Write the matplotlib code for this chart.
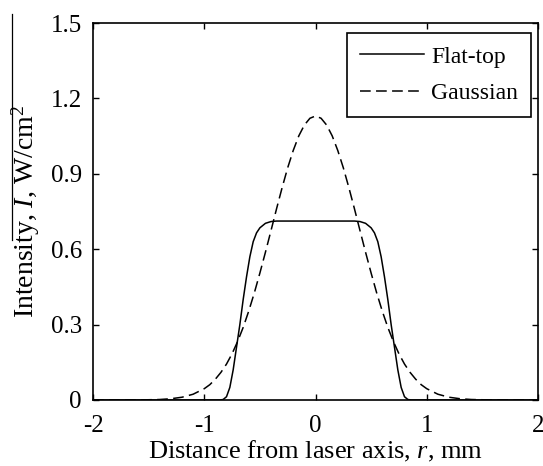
import matplotlib
matplotlib.use("Agg")
import matplotlib.pyplot as plt
from matplotlib.lines import Line2D

# ---- data ----
flat_r = [-2.0, -1.5, -1.0, -0.86, -0.83, -0.80, -0.77, -0.74, -0.71, -0.68, -0.65,
          -0.62, -0.59, -0.56, -0.53, -0.50, -0.45, -0.40, -0.35, 0.0,
          0.35, 0.40, 0.45, 0.50, 0.53, 0.56, 0.59, 0.62, 0.65, 0.68, 0.71,
          0.74, 0.77, 0.80, 0.83, 0.86, 1.0, 1.5, 2.0]
flat_I = [0.0, 0.0, 0.0, 0.0, 0.002, 0.013, 0.05, 0.12, 0.21, 0.30, 0.40,
          0.49, 0.57, 0.63, 0.665, 0.685, 0.703, 0.710, 0.712, 0.712,
          0.712, 0.710, 0.703, 0.685, 0.665, 0.63, 0.57, 0.49, 0.40, 0.30, 0.21,
          0.12, 0.05, 0.013, 0.002, 0.0, 0.0, 0.0, 0.0]

gauss_r = [-2.0, -1.9, -1.8, -1.7, -1.6, -1.5, -1.4, -1.3, -1.2, -1.1, -1.0,
           -0.95, -0.90, -0.85, -0.80, -0.75, -0.70, -0.65, -0.60, -0.55, -0.50,
           -0.45, -0.40, -0.35, -0.30, -0.25, -0.20, -0.15, -0.10, -0.05, 0.0,
           0.05, 0.10, 0.15, 0.20, 0.25, 0.30, 0.35, 0.40, 0.45, 0.50,
           0.55, 0.60, 0.65, 0.70, 0.75, 0.80, 0.85, 0.90, 0.95, 1.0,
           1.1, 1.2, 1.3, 1.4, 1.5, 1.6, 1.7, 1.8, 1.9, 2.0]
gauss_I = [0.0, 0.0, 0.0, 0.0, 0.0, 0.001, 0.002, 0.005, 0.011, 0.023, 0.045,
           0.061, 0.083, 0.110, 0.143, 0.184, 0.233, 0.289, 0.354, 0.426, 0.505,
           0.588, 0.674, 0.761, 0.845, 0.924, 0.993, 1.051, 1.094, 1.121, 1.130,
           1.121, 1.094, 1.051, 0.993, 0.924, 0.845, 0.761, 0.674, 0.588, 0.505,
           0.426, 0.354, 0.289, 0.233, 0.184, 0.143, 0.110, 0.083, 0.061, 0.045,
           0.023, 0.011, 0.005, 0.002, 0.001, 0.0, 0.0, 0.0, 0.0, 0.0]

x_ticks = [-2, -1, 0, 1, 2]
x_ticklabels = ["-2", "-1", "0", "1", "2"]
y_ticks = [0, 0.3, 0.6, 0.9, 1.2, 1.5]
y_ticklabels = ["0", "0.3", "0.6", "0.9", "1.2", "1.5"]

plt.rcParams['font.family'] = ['Liberation Serif', 'DejaVu Serif']
plt.rcParams['mathtext.fontset'] = 'custom'
plt.rcParams['mathtext.rm'] = 'Liberation Serif'
plt.rcParams['mathtext.it'] = 'Liberation Serif:italic'

W, H = 543, 466
fig = plt.figure(figsize=(W / 100, H / 100), dpi=100)
ax = fig.add_axes([93 / W, 1 - 400 / H, (538 - 93) / W, (400 - 23) / H])

ax.plot(flat_r, flat_I, color='black', lw=1.1, label='Flat-top')
g, = ax.plot(gauss_r, gauss_I, color='black', lw=1.1, label='Gaussian')
g.set_dashes([7, 3.5])

ax.set_xlim(-2, 2)
ax.set_ylim(0, 1.5)
ax.set_xticks(x_ticks)
ax.set_xticklabels(x_ticklabels)
ax.set_yticks(y_ticks)
ax.set_yticklabels(y_ticklabels)
ax.tick_params(direction='in', length=4, width=1, top=True, right=True,
               labelsize=18, colors='black')
ax.tick_params(axis='x', pad=11)
ax.tick_params(axis='y', pad=8)
for s in ax.spines.values():
    s.set_linewidth(1.2)

ax.set_xlabel('Distance from laser axis, $r$, mm', fontsize=19, labelpad=1)
ax.set_ylabel('Intensity, $I$, W/cm$^2$', fontsize=20, labelpad=6)

leg = ax.legend(loc='upper right',
                bbox_to_anchor=((531 - 93) / (538 - 93), 1 - (33 - 23) / (400 - 23)),
                fontsize=17, frameon=True, fancybox=False, handlelength=2.7,
                handletextpad=0.3, labelspacing=0.65, borderpad=0.55,
                borderaxespad=0.0)
leg.get_frame().set_edgecolor('black')
leg.get_frame().set_linewidth(1.2)
leg.get_frame().set_alpha(1)

# overline artifact on the y label in the reference
fig.add_artist(Line2D([12 / W, 12 / W], [1 - 14 / H, 1 - 240 / H],
                      transform=fig.transFigure, color='black', lw=0.9))

fig.savefig('out.png', dpi=100)
